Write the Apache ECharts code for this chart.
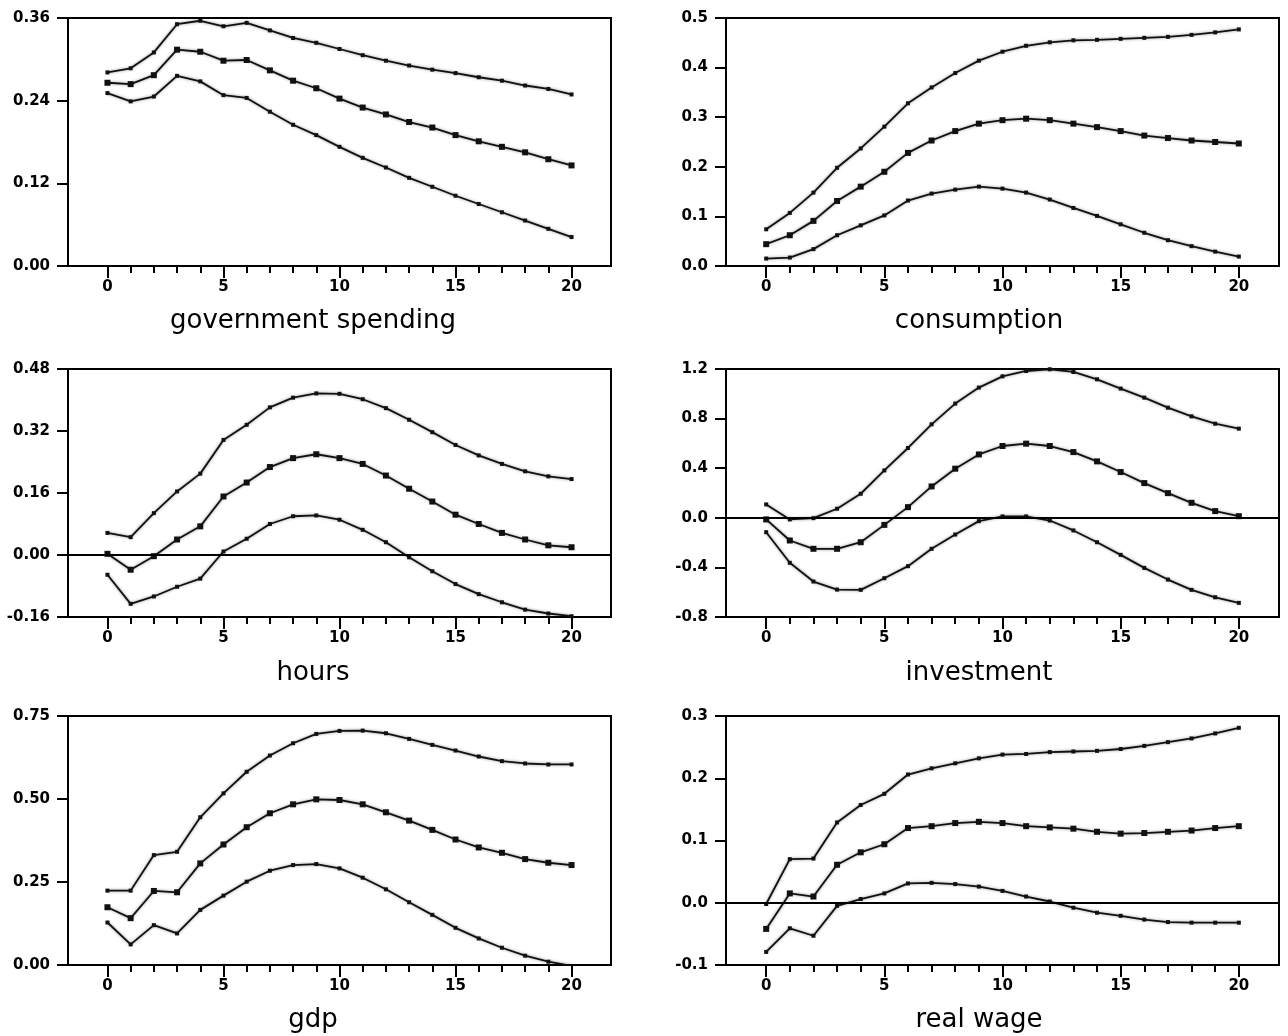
<!DOCTYPE html>
<html>
<head>
<meta charset="utf-8">
<script src="https://cdn.jsdelivr.net/npm/echarts@6/dist/echarts.min.js"></script>
<style>
html, body { margin: 0; padding: 0; background: #fff; }
#irf { width: 1288px; height: 1036px; }
</style>
</head>
<body>
<div id="irf"></div>
<script>
// horizons (quarters after the shock)
var horizon = [0, 1, 2, 3, 4, 5, 6, 7, 8, 9, 10, 11, 12, 13, 14, 15, 16, 17, 18, 19, 20];
var majorTicks = [0, 5, 10, 15, 20];

// government spending
var govUpper = [0.281, 0.287, 0.310, 0.351, 0.356, 0.348, 0.353, 0.342, 0.331, 0.324, 0.315, 0.306, 0.298, 0.291, 0.285, 0.280, 0.274, 0.269, 0.262, 0.257, 0.249];
var govMid   = [0.266, 0.264, 0.277, 0.314, 0.311, 0.298, 0.299, 0.284, 0.269, 0.258, 0.243, 0.230, 0.220, 0.209, 0.201, 0.190, 0.181, 0.173, 0.165, 0.155, 0.146];
var govLower = [0.251, 0.239, 0.246, 0.276, 0.268, 0.248, 0.244, 0.224, 0.205, 0.190, 0.173, 0.157, 0.143, 0.128, 0.115, 0.102, 0.090, 0.078, 0.066, 0.054, 0.042];

// consumption
var consUpper = [0.074, 0.107, 0.148, 0.198, 0.237, 0.281, 0.328, 0.360, 0.389, 0.414, 0.432, 0.444, 0.451, 0.455, 0.456, 0.458, 0.460, 0.462, 0.466, 0.471, 0.477];
var consMid   = [0.044, 0.062, 0.091, 0.131, 0.160, 0.190, 0.228, 0.253, 0.272, 0.287, 0.294, 0.297, 0.294, 0.287, 0.280, 0.272, 0.263, 0.258, 0.253, 0.250, 0.247];
var consLower = [0.015, 0.017, 0.034, 0.062, 0.082, 0.102, 0.132, 0.146, 0.154, 0.160, 0.156, 0.148, 0.134, 0.117, 0.101, 0.084, 0.067, 0.052, 0.040, 0.029, 0.019];

// hours
var hoursUpper = [0.057, 0.046, 0.108, 0.164, 0.210, 0.297, 0.336, 0.381, 0.406, 0.417, 0.416, 0.402, 0.379, 0.349, 0.317, 0.284, 0.257, 0.235, 0.216, 0.203, 0.196];
var hoursMid   = [0.003, -0.038, -0.003, 0.040, 0.074, 0.151, 0.187, 0.227, 0.250, 0.260, 0.250, 0.235, 0.205, 0.171, 0.138, 0.104, 0.080, 0.057, 0.040, 0.025, 0.020];
var hoursLower = [-0.051, -0.126, -0.107, -0.082, -0.061, 0.009, 0.042, 0.080, 0.100, 0.102, 0.091, 0.065, 0.033, -0.006, -0.042, -0.075, -0.101, -0.122, -0.141, -0.151, -0.158];

// investment
var invUpper = [0.108, -0.013, -0.003, 0.073, 0.194, 0.382, 0.563, 0.754, 0.921, 1.050, 1.141, 1.184, 1.198, 1.176, 1.117, 1.042, 0.969, 0.888, 0.818, 0.759, 0.719];
var invMid   = [-0.013, -0.183, -0.250, -0.250, -0.197, -0.057, 0.086, 0.253, 0.396, 0.511, 0.579, 0.598, 0.579, 0.530, 0.455, 0.369, 0.280, 0.199, 0.121, 0.054, 0.013];
var invLower = [-0.116, -0.363, -0.514, -0.579, -0.581, -0.487, -0.390, -0.250, -0.135, -0.027, 0.011, 0.011, -0.022, -0.102, -0.197, -0.299, -0.404, -0.498, -0.581, -0.641, -0.686];

// gdp
var gdpUpper = [0.224, 0.224, 0.331, 0.341, 0.445, 0.517, 0.582, 0.631, 0.668, 0.696, 0.705, 0.706, 0.698, 0.681, 0.663, 0.646, 0.628, 0.614, 0.607, 0.604, 0.604];
var gdpMid   = [0.174, 0.141, 0.223, 0.219, 0.306, 0.363, 0.415, 0.457, 0.484, 0.499, 0.497, 0.484, 0.460, 0.435, 0.407, 0.378, 0.354, 0.338, 0.319, 0.308, 0.301];
var gdpLower = [0.128, 0.062, 0.120, 0.095, 0.166, 0.209, 0.251, 0.284, 0.301, 0.304, 0.291, 0.263, 0.228, 0.189, 0.151, 0.112, 0.080, 0.052, 0.028, 0.010, -0.003];

// real wage
var wageUpper = [-0.002, 0.070, 0.071, 0.129, 0.157, 0.175, 0.206, 0.216, 0.224, 0.232, 0.238, 0.239, 0.242, 0.243, 0.244, 0.247, 0.252, 0.258, 0.264, 0.272, 0.281];
var wageMid   = [-0.042, 0.015, 0.010, 0.061, 0.081, 0.094, 0.120, 0.123, 0.128, 0.130, 0.128, 0.123, 0.121, 0.119, 0.114, 0.111, 0.112, 0.114, 0.116, 0.120, 0.123];
var wageLower = [-0.079, -0.041, -0.053, -0.005, 0.006, 0.015, 0.031, 0.032, 0.030, 0.026, 0.019, 0.010, 0.002, -0.008, -0.016, -0.021, -0.027, -0.031, -0.032, -0.032, -0.032];

var panels = [
    { name: 'government spending', lines: [govUpper, govMid, govLower], min: 0, max: 0.36, step: 0.12, dec: 2, zero: false },
    { name: 'consumption', lines: [consUpper, consMid, consLower], min: 0, max: 0.5, step: 0.1, dec: 1, zero: false },
    { name: 'hours', lines: [hoursUpper, hoursMid, hoursLower], min: -0.16, max: 0.48, step: 0.16, dec: 2, zero: true },
    { name: 'investment', lines: [invUpper, invMid, invLower], min: -0.8, max: 1.2, step: 0.4, dec: 1, zero: true },
    { name: 'gdp', lines: [gdpUpper, gdpMid, gdpLower], min: 0, max: 0.75, step: 0.25, dec: 2, zero: false },
    { name: 'real wage', lines: [wageUpper, wageMid, wageLower], min: -0.1, max: 0.3, step: 0.1, dec: 1, zero: true }
];

var colLeft = [68, 726], colWidth = [543, 553];
var rowTop = [18, 369, 716], rowHeight = [248, 248, 249];
var titleX = [313, 979], titleY = [321, 673, 1020];

var tickFont = { color: '#000', fontFamily: 'DejaVu Sans', fontWeight: 'bold', fontSize: 15 };
var black = { color: '#000', width: 2 };

var grids = [], xAxes = [], yAxes = [], series = [], texts = [];

panels.forEach(function (p, i) {
    var col = i % 2, row = Math.floor(i / 2);
    grids.push({
        left: colLeft[col], top: rowTop[row], width: colWidth[col], height: rowHeight[row],
        show: true, borderColor: '#000', borderWidth: 2, backgroundColor: 'transparent'
    });
    // major ticks + labels
    xAxes.push({
        type: 'value', gridIndex: i, min: -1.7, max: 21.7,
        axisLine: { show: true, onZero: false, lineStyle: black },
        axisTick: { show: true, customValues: majorTicks, length: 12, lineStyle: black },
        axisLabel: { customValues: majorTicks, margin: 14, formatter: function (v) { return String(v); }, ...tickFont },
        splitLine: { show: false }
    });
    // short ticks at every horizon
    xAxes.push({
        type: 'value', gridIndex: i, min: -1.7, max: 21.7, position: 'bottom',
        axisLine: { show: false, onZero: false },
        axisTick: { show: true, customValues: horizon, length: 7, lineStyle: black },
        axisLabel: { show: false },
        splitLine: { show: false }
    });
    yAxes.push({
        type: 'value', gridIndex: i, min: p.min, max: p.max, interval: p.step,
        axisLine: { show: true, onZero: false, lineStyle: black },
        axisTick: { show: true, length: 11, lineStyle: black },
        axisLabel: { margin: 18, formatter: (function (d) { return function (v) { return v.toFixed(d); }; })(p.dec), ...tickFont },
        splitLine: { show: false }
    });
    p.lines.forEach(function (vals, k) {
        var s = {
            type: 'line', xAxisIndex: 2 * i, yAxisIndex: i,
            data: horizon.map(function (h, j) { return [h, vals[j]]; }),
            symbol: 'rect', symbolSize: k === 1 ? 6 : 4, showSymbol: true,
            itemStyle: { color: '#111' },
            lineStyle: { color: '#111', width: 1.8, shadowColor: 'rgba(0,0,0,0.45)', shadowBlur: 3 },
            silent: true, z: 3
        };
        if (k === 1 && p.zero) {
            s.markLine = {
                silent: true, symbol: 'none', label: { show: false },
                lineStyle: { color: '#000', width: 2, type: 'solid' },
                data: [{ yAxis: 0 }]
            };
        }
        series.push(s);
    });
    texts.push({
        type: 'text', x: titleX[col], y: titleY[row],
        style: { text: p.name, font: '26px "DejaVu Sans"', fill: '#000', align: 'center', verticalAlign: 'middle' }
    });
});

var chart = echarts.init(document.getElementById('irf'));
chart.setOption({
    animation: false,
    backgroundColor: '#fff',
    grid: grids,
    xAxis: xAxes,
    yAxis: yAxes,
    series: series,
    graphic: texts
});
</script>
</body>
</html>
